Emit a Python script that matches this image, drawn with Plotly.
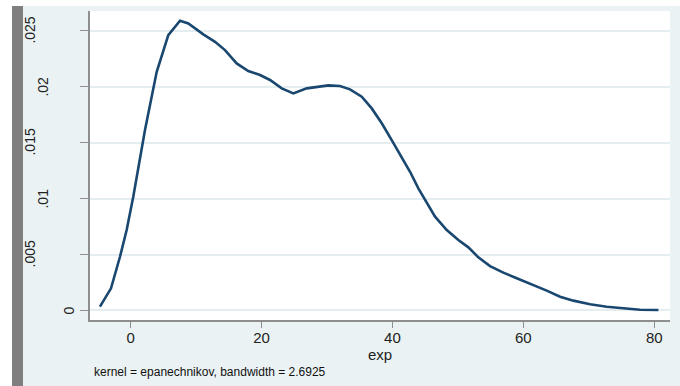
import plotly.graph_objects as go

# Kernel density estimate of exp (epanechnikov kernel)
exp_grid = [-4.68, -2.99, -1.62, -0.60, 0.41, 2.20, 3.99, 5.76, 7.55, 8.82,
            11.11, 12.90, 14.42, 16.21, 17.98, 19.77, 21.30, 23.09, 24.86, 26.91,
            30.21, 31.99, 33.52, 35.31, 36.84, 38.37, 39.89, 41.42, 42.69, 43.96,
            44.98, 46.51, 48.30, 50.07, 51.60, 53.12, 54.91, 56.94, 58.99, 61.53,
            63.57, 65.61, 67.64, 70.19, 72.74, 75.28, 77.83, 80.63]
density = [0.00034, 0.00198, 0.00480, 0.00719, 0.01016, 0.01612, 0.02132, 0.02460,
           0.02588, 0.02564, 0.02466, 0.02400, 0.02326, 0.02207, 0.02139, 0.02103,
           0.02059, 0.01984, 0.01939, 0.01984, 0.02011, 0.02005, 0.01975, 0.01909,
           0.01805, 0.01672, 0.01522, 0.01373, 0.01239, 0.01091, 0.00987, 0.00838,
           0.00719, 0.00629, 0.00564, 0.00475, 0.00397, 0.00338, 0.00288, 0.00228,
           0.00177, 0.00123, 0.00088, 0.00055, 0.00034, 0.00020, 0.00007, 0.00004]

x_ticks = [0, 20, 40, 60, 80]
y_ticks = [0, 0.005, 0.01, 0.015, 0.02, 0.025]
y_tick_labels = ["0", ".005", ".01", ".015", ".02", ".025"]

x_title = "exp"
note_text = "kernel = epanechnikov, bandwidth = 2.6925"

BG = "#eaf2f3"
NAVY = "#1a476f"
AXIS = "#8e8e8e"
FONT = "Liberation Sans, Arial, sans-serif"

W, H = 680, 386
ML, MR, MT, MB = 90, 10, 11, 66
PW, PH = W - ML - MR, H - MT - MB


def px_x(px):
    return (px - ML) / PW


def px_y(py):
    return (H - MB - py) / PH


fig = go.Figure()
fig.add_trace(go.Scatter(
    x=exp_grid, y=density, mode="lines",
    line=dict(color=NAVY, width=2.6),
    hoverinfo="skip", showlegend=False,
))

# outer frame: white top strip, white left edge and grey side bar
shapes = [
    dict(type="rect", xref="paper", yref="paper",
         x0=px_x(0), x1=px_x(W), y0=px_y(0), y1=px_y(6),
         fillcolor="white", line=dict(width=0), layer="below"),
    dict(type="rect", xref="paper", yref="paper",
         x0=px_x(0), x1=px_x(12), y0=px_y(0), y1=px_y(H),
         fillcolor="white", line=dict(width=0), layer="below"),
    dict(type="rect", xref="paper", yref="paper",
         x0=px_x(12), x1=px_x(23), y0=px_y(6), y1=px_y(H),
         fillcolor="#7f7f7f", line=dict(width=0), layer="below"),
]

annotations = []
# rotated y tick labels
for val, lab in zip(y_ticks, y_tick_labels):
    cx = 82 - 13 * len(lab)
    annotations.append(dict(
        x=0, xref="paper", y=val, yref="y", xshift=cx - ML,
        text=lab, showarrow=False, textangle=-90,
        xanchor="center", yanchor="middle",
        font=dict(family=FONT, size=14, color="#222222"),
    ))

annotations.append(dict(
    x=px_x(92), xref="paper", y=px_y(372), yref="paper",
    text=note_text, showarrow=False, xanchor="left", yanchor="middle",
    font=dict(family=FONT, size=12, color="#111111"),
))

fig.update_layout(
    width=W, height=H,
    margin=dict(l=ML, r=MR, t=MT, b=MB),
    paper_bgcolor=BG, plot_bgcolor="white",
    shapes=shapes, annotations=annotations,
    font=dict(family=FONT, color="#222222"),
    xaxis=dict(
        range=[-6.2, 82.4], tickvals=x_ticks, ticks="outside", ticklen=6,
        tickcolor=AXIS, tickwidth=1.3, showline=True, linecolor=AXIS, linewidth=1.5,
        showgrid=False, zeroline=False, ticklabelstandoff=-3,
        tickfont=dict(family=FONT, size=15, color="#222222"),
        title=dict(text=x_title, font=dict(family=FONT, size=15, color="#222222"),
                   standoff=0),
    ),
    yaxis=dict(
        range=[-0.00085, 0.02675], tickvals=y_ticks, ticks="outside", ticklen=8,
        tickcolor=AXIS, tickwidth=1.3, showline=True, linecolor=AXIS, linewidth=1.5,
        showgrid=True, gridcolor="#e4eef0", gridwidth=1.5, zeroline=False,
        showticklabels=False,
    ),
)

fig.write_html("out.html")
